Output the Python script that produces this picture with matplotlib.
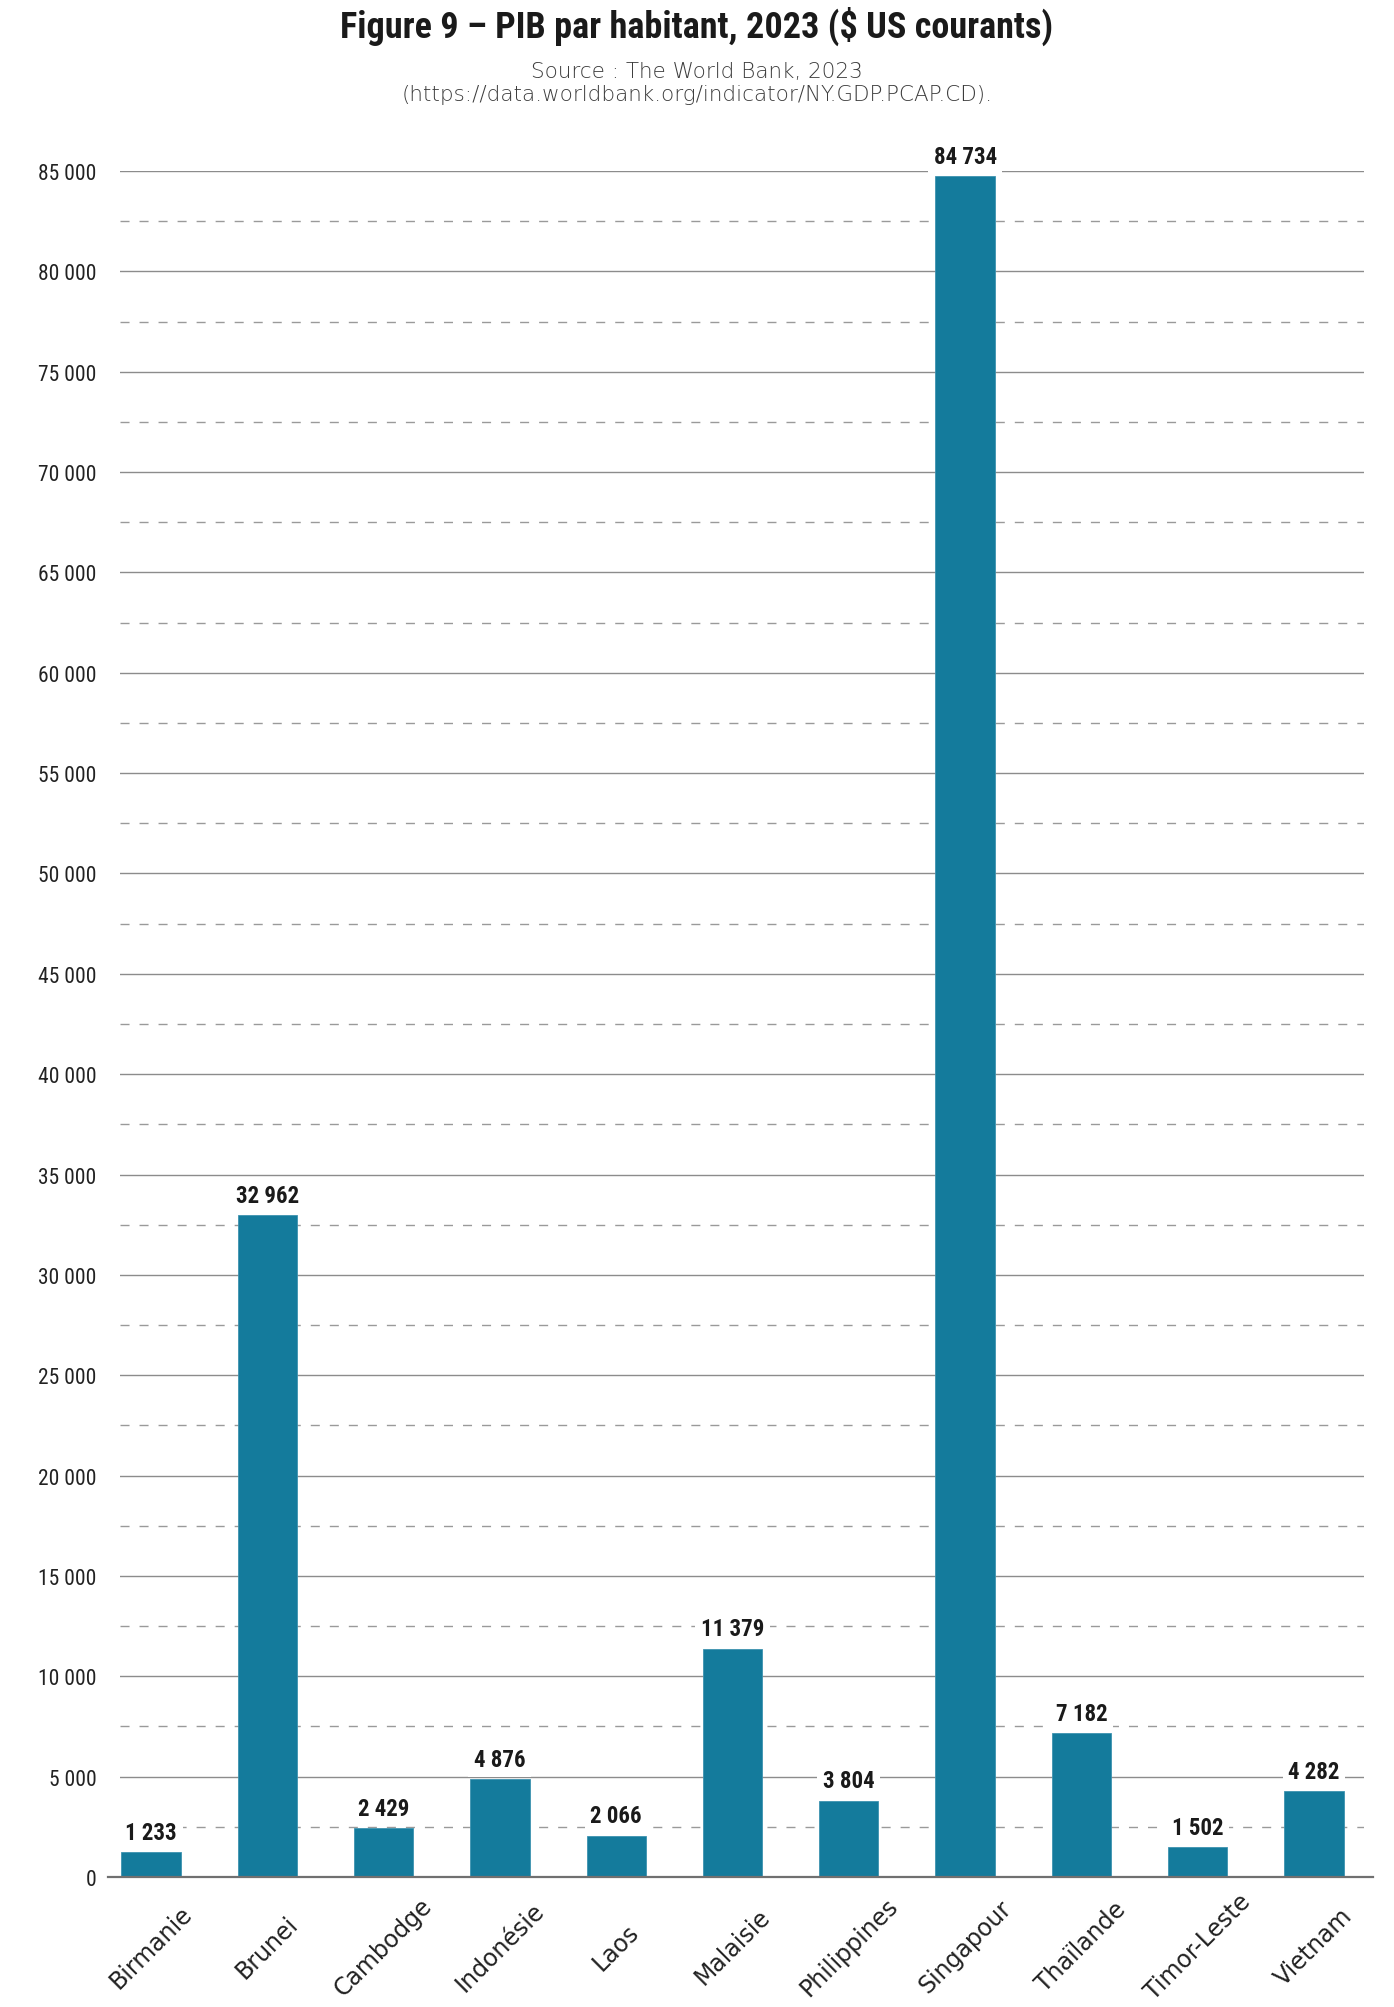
import matplotlib
matplotlib.use("Agg")
import matplotlib.pyplot as plt
from matplotlib import font_manager as fm
import matplotlib.transforms as mtransforms

# ---- data ----
countries = ["Birmanie", "Brunei", "Cambodge", "Indonésie", "Laos", "Malaisie",
             "Philippines", "Singapour", "Thaïlande", "Timor-Leste", "Vietnam"]
gdp_per_capita = [1233, 32962, 2429, 4876, 2066, 11379, 3804, 84734, 7182, 1502, 4282]
value_labels = ["1 233", "32 962", "2 429", "4 876", "2 066", "11 379",
                "3 804", "84 734", "7 182", "1 502", "4 282"]
major_ticks = list(range(0, 85001, 5000))
minor_ticks = list(range(2500, 85000, 5000))
major_labels = ["0"] + [f"{v // 1000} 000" for v in major_ticks[1:]]

title = "Figure 9 – PIB par habitant, 2023 ($ US courants)"
source1 = "Source : The World Bank, 2023"
source2 = "(https://data.worldbank.org/indicator/NY.GDP.PCAP.CD)."

# ---- fonts ----
names = {f.name for f in fm.fontManager.ttflist}
cond = None
for cand in ["Roboto Condensed", "Open Sans Condensed", "Liberation Sans Narrow",
             "DejaVu Sans Condensed", "Noto Sans Condensed"]:
    if cand in names:
        cond = cand
        break
if cond is None:
    cond = "Roboto"

BAR = "#147b9c"

W, H = 1394, 2008
fig = plt.figure(figsize=(W / 100, H / 100), dpi=100)
ax_l, ax_r, ax_b, ax_t = 120, 1364, 1878, 172
ax = fig.add_axes([ax_l / W, (H - ax_b) / H, (ax_r - ax_l) / W, (ax_b - ax_t) / H])

x = list(range(len(countries)))
ax.set_xlim(-0.267, 10.43)
ax.set_ylim(0, 85000)

# gridlines
for v in major_ticks[1:]:
    ax.axhline(v, color="#8c8c8c", lw=1.0, zorder=0)
for v in minor_ticks:
    ax.axhline(v, color="#9a9a9a", lw=1.0, ls=(0, (6.5, 7.2)), zorder=0)

ax.bar(x, gdp_per_capita, width=0.51, color=BAR, edgecolor="#3d93b0",
       linewidth=0.6, zorder=2)

# baseline extending slightly beyond axes
tr = mtransforms.blended_transform_factory(ax.transAxes, ax.transData)
ax.plot([-0.0096, 1.0072], [0, 0], color="#707070", lw=1.6, transform=tr,
        clip_on=False, zorder=3)

for xi, v, lab in zip(x, gdp_per_capita, value_labels):
    ax.annotate(lab, (xi, v), xytext=(0, 6), textcoords="offset points",
                ha="center", va="bottom", fontsize=16.5, fontweight="bold",
                family=cond, color="#1a1a1a", zorder=4,
                bbox=dict(boxstyle="square,pad=0.25", fc="white", ec="none"))

for s in ax.spines.values():
    s.set_visible(False)

ax.set_yticks(major_ticks)
ax.set_yticklabels(major_labels, family=cond, fontsize=15.5, color="#222222")
ax.tick_params(axis="y", length=0, pad=17)

ax.set_xticks(x)
ax.set_xticklabels(countries, rotation=45, ha="center", va="center",
                   family="DejaVu Sans", fontsize=17, color="#222222")
ax.tick_params(axis="x", length=0, pad=50)

fig.text(0.5, 1 - 26 / H, title, ha="center", va="center", fontsize=26,
         fontweight="bold", family=cond, color="#1a1a1a")
fig.text(0.5, 1 - 72 / H, source1, ha="center", va="center", fontsize=15.5,
         family="DejaVu Sans", fontweight="light", color="#3c3c3c")
fig.text(0.5, 1 - 95 / H, source2, ha="center", va="center", fontsize=15.5,
         family="DejaVu Sans", fontweight="light", color="#3c3c3c")

fig.savefig("out.png", dpi=100, facecolor="white")
